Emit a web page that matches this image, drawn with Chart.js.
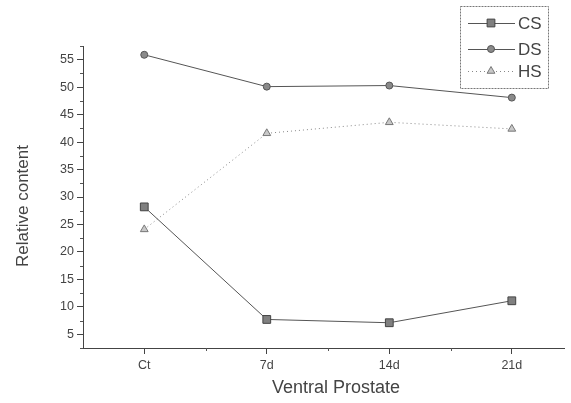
<!DOCTYPE html>
<html>
<head>
<meta charset="utf-8">
<script src="https://cdn.jsdelivr.net/npm/chart.js@4.4.0/dist/chart.umd.min.js"></script>
<style>
html,body{margin:0;padding:0;background:#fff;}
#wrap{width:571px;height:403px;position:relative;}
</style>
</head>
<body>
<div id="wrap"><canvas id="c" width="571" height="403"></canvas></div>
<script>
const categories = ["Ct", "7d", "14d", "21d"];
const csValues = [28.2, 7.7, 7.1, 11.1];
const dsValues = [55.9, 50.1, 50.3, 48.1];
const hsValues = [24.1, 41.6, 43.6, 42.4];
const yTickValues = [5, 10, 15, 20, 25, 30, 35, 40, 45, 50, 55];
const xTickValues = [0, 1, 2, 3];
const xTitle = "Ventral Prostate";
const yTitle = "Relative content";

const FONT = "'Liberation Sans', Arial, sans-serif";

function pts(vals){ return vals.map((v,i)=>({x:i,y:v})); }

const minorTicks = {
  id:'minorTicks',
  afterDraw(chart){
    const ctx = chart.ctx, xs = chart.scales.x, ys = chart.scales.y;
    ctx.save();
    ctx.strokeStyle = '#555';
    ctx.lineWidth = 1;
    ctx.beginPath();
    for (let v = 2.5; v <= 57.5; v += 5) {
      const y = Math.round(ys.getPixelForValue(v)) + 0.5;
      ctx.moveTo(xs.left - 3, y); ctx.lineTo(xs.left, y);
    }
    for (let v = 0.5; v < 3.45; v += 1) {
      const x = Math.round(xs.getPixelForValue(v)) + 0.5;
      ctx.moveTo(x, ys.bottom); ctx.lineTo(x, ys.bottom + 3);
    }
    ctx.stroke();
    ctx.restore();
  }
};

const axisTitles = {
  id:'axisTitles',
  afterDraw(chart){
    const ctx = chart.ctx;
    ctx.save();
    ctx.fillStyle = '#444';
    ctx.textAlign = 'center';
    ctx.textBaseline = 'middle';
    ctx.font = "18px " + FONT;
    ctx.fillText(xTitle, 336, 388);
    ctx.translate(23, 206);
    ctx.rotate(-Math.PI / 2);
    ctx.font = "17px " + FONT;
    ctx.fillText(yTitle, 0, 0);
    ctx.restore();
  }
};

const boxLegend = {
  id:'boxLegend',
  afterDraw(chart){
    const ctx = chart.ctx;
    const bx = 460, by = 6, bw = 88, bh = 82;
    ctx.save();
    ctx.strokeStyle = '#777';
    ctx.lineWidth = 1;
    ctx.setLineDash([2,1]);
    ctx.strokeRect(bx + 0.5, by + 0.5, bw, bh);
    ctx.setLineDash([]);
    const rows = [23, 49, 71];
    chart.data.datasets.forEach((ds, i) => {
      const y = rows[i];
      ctx.strokeStyle = ds.borderColor;
      ctx.lineWidth = ds.borderWidth;
      ctx.setLineDash(ds.borderDash || []);
      ctx.beginPath();
      ctx.moveTo(468, y + 0.5); ctx.lineTo(515, y + 0.5);
      ctx.stroke();
      ctx.setLineDash([]);
      ctx.fillStyle = ds.pointBackgroundColor;
      ctx.strokeStyle = ds.pointBorderColor;
      ctx.lineWidth = 1;
      Chart.helpers.drawPoint(ctx, {pointStyle: ds.pointStyle, radius: ds.pointRadius, borderWidth:1, rotation:0}, 491, y);
      ctx.fillStyle = '#444';
      ctx.font = "17px " + FONT;
      ctx.textBaseline = 'middle';
      ctx.textAlign = 'left';
      ctx.fillText(ds.label, 518, y + 1);
    });
    ctx.restore();
  }
};

new Chart(document.getElementById('c'), {
  type: 'line',
  data: {
    datasets: [
      { label: 'CS', data: pts(csValues), borderColor: '#555', borderWidth: 1,
        pointStyle: 'rect', pointRadius: 5.5, pointBackgroundColor: '#808080', pointBorderColor: '#444', pointBorderWidth: 1 },
      { label: 'DS', data: pts(dsValues), borderColor: '#555', borderWidth: 1,
        pointStyle: 'circle', pointRadius: 3.5, pointBackgroundColor: '#8a8a8a', pointBorderColor: '#555', pointBorderWidth: 1 },
      { label: 'HS', data: pts(hsValues), borderColor: '#888', borderWidth: 1, borderDash: [1,3],
        pointStyle: 'triangle', pointRadius: 4.5, pointBackgroundColor: '#c8c8c8', pointBorderColor: '#777', pointBorderWidth: 1 }
    ]
  },
  options: {
    responsive: false,
    animation: false,
    devicePixelRatio: 1,
    layout: { padding: { top: 46, right: 1, left: 0, bottom: 0 } },
    plugins: { legend: { display: false }, tooltip: { enabled: false } },
    elements: { line: { tension: 0 } },
    scales: {
      x: {
        type: 'linear', min: -0.5, max: 3.43,
        afterFit(s){ s.height = 55; },
        afterBuildTicks(s){ s.ticks = xTickValues.map(v => ({value: v})); },
        ticks: { callback: v => categories[v] ?? '', color: '#444', font: { family: FONT, size: 12.5 }, padding: 4, maxRotation: 0, autoSkip: false },
        grid: { drawOnChartArea: false, drawTicks: true, tickLength: 6, tickColor: '#444' },
        border: { display: true, color: '#444', width: 1 },
        title: { display: false }
      },
      y: {
        type: 'linear', min: 2.5, max: 57.5,
        afterFit(s){ s.width = 83; },
        afterBuildTicks(s){ s.ticks = yTickValues.map(v => ({value: v})); },
        ticks: { color: '#444', font: { family: FONT, size: 12.5 }, padding: 3, autoSkip: false },
        grid: { drawOnChartArea: false, drawTicks: true, tickLength: 6, tickColor: '#444' },
        border: { display: true, color: '#444', width: 1 },
        title: { display: false }
      }
    }
  },
  plugins: [minorTicks, axisTitles, boxLegend]
});
</script>
</body>
</html>
